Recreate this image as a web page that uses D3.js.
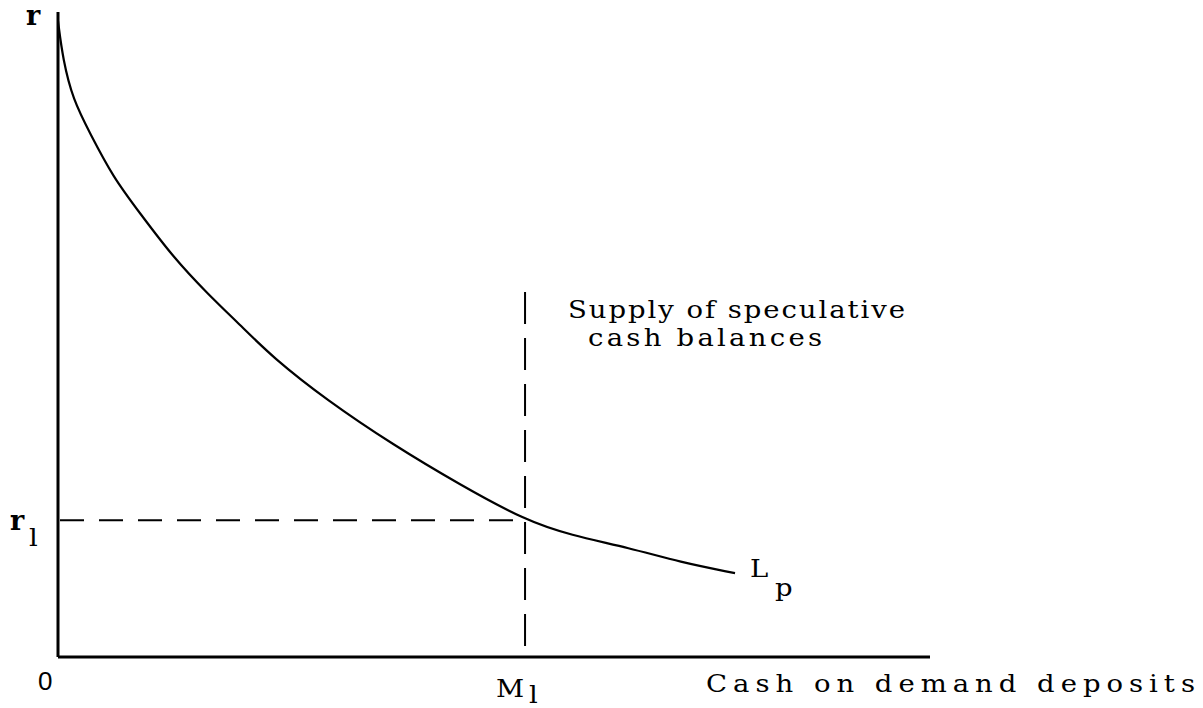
<!DOCTYPE html>
<html>
<head>
<meta charset="utf-8">
<script src="https://cdn.jsdelivr.net/npm/d3@7"></script>
<style>
  body { margin: 0; background: #fff; }
  text { fill: #000; }
  .lbl { font-family: "DejaVu Serif", serif; font-size: 25px; }
  .rr { font-family: "DejaVu Serif", serif; font-size: 27px; font-weight: bold; }
</style>
</head>
<body>
<script>
// liquidity preference curve L_p (cash vs interest rate)
const cash = [0, 0.57, 1.72, 3.67, 6.31, 9.4, 13.19, 17.09, 20.87, 24.66, 30.85, 38.42, 46.1, 53.56, 58.72, 65.6, 71.33, 77.64];
const rate = [98.6, 92.6, 86.4, 81.2, 74.4, 68.8, 62.0, 56.4, 51.5, 46.4, 39.8, 32.9, 26.7, 21.2, 18.9, 16.9, 14.7, 13.0];

const M1 = 53.56;
const r1 = 21.2;
const supplyTop = 56.6;

const width = 1203, height = 708;
const margin = {top: 12, right: 273, bottom: 51, left: 58};
const stretch = 1.1; // the old typewriter face is wider than DejaVu

const x = d3.scaleLinear().domain([0, 100]).range([margin.left, width - margin.right]);
const y = d3.scaleLinear().domain([0, 100]).range([height - margin.bottom, margin.top]);

const svg = d3.select("body").append("svg")
    .attr("width", width)
    .attr("height", height);

// axes
svg.append("line")
    .attr("x1", x(0)).attr("x2", x(0))
    .attr("y1", y(100)).attr("y2", y(0))
    .attr("stroke", "#000").attr("stroke-width", 3);
svg.append("line")
    .attr("x1", x(0)).attr("x2", x(100))
    .attr("y1", y(0)).attr("y2", y(0))
    .attr("stroke", "#000").attr("stroke-width", 3);

// dashed guides
svg.append("line")
    .attr("x1", x(0) + 2).attr("x2", x(M1))
    .attr("y1", y(r1)).attr("y2", y(r1))
    .attr("stroke", "#000").attr("stroke-width", 2)
    .attr("stroke-dasharray", "24,15");
svg.append("line")
    .attr("x1", x(M1)).attr("x2", x(M1))
    .attr("y1", y(supplyTop)).attr("y2", y(0))
    .attr("stroke", "#000").attr("stroke-width", 2)
    .attr("stroke-dasharray", "32,14");

// the curve
const pts = cash.map((c, i) => [c, rate[i]]);
const line = d3.line()
    .x(d => x(d[0]))
    .y(d => y(d[1]))
    .curve(d3.curveBasis);
svg.append("path")
    .datum(pts)
    .attr("d", line)
    .attr("fill", "none")
    .attr("stroke", "#000")
    .attr("stroke-width", 2.2);

// wide spaced label, stretched a bit then spaced out to the given width
function wideText(str, tx, ty, w) {
    let t = svg.append("text").attr("class", "lbl")
        .attr("transform", "translate(" + tx + "," + ty + ") scale(" + stretch + ",1)")
        .text(str);
    if (w) t.attr("textLength", w / stretch).attr("lengthAdjust", "spacing");
    return t;
}

// labels
svg.append("text").attr("class", "rr").attr("x", 26).attr("y", 25).text("r");
svg.append("text").attr("class", "rr").attr("x", 10).attr("y", y(r1) + 10).text("r");
wideText("l", 29, y(r1) + 26);
svg.append("text").style("font-family", "Liberation Sans, sans-serif").style("font-size", "26px")
    .attr("x", 38).attr("y", 690).text("0");
wideText("M", x(M1) - 29, 697, 25);
wideText("l", x(M1) + 4, 703);
wideText("Cash on demand deposits", 706, 692, 489);
wideText("Supply of speculative", 568, 318, 337);
wideText("cash balances", 588, 346, 234);
wideText("L", 750, 577);
wideText("p", 775, 596);
</script>
</body>
</html>
